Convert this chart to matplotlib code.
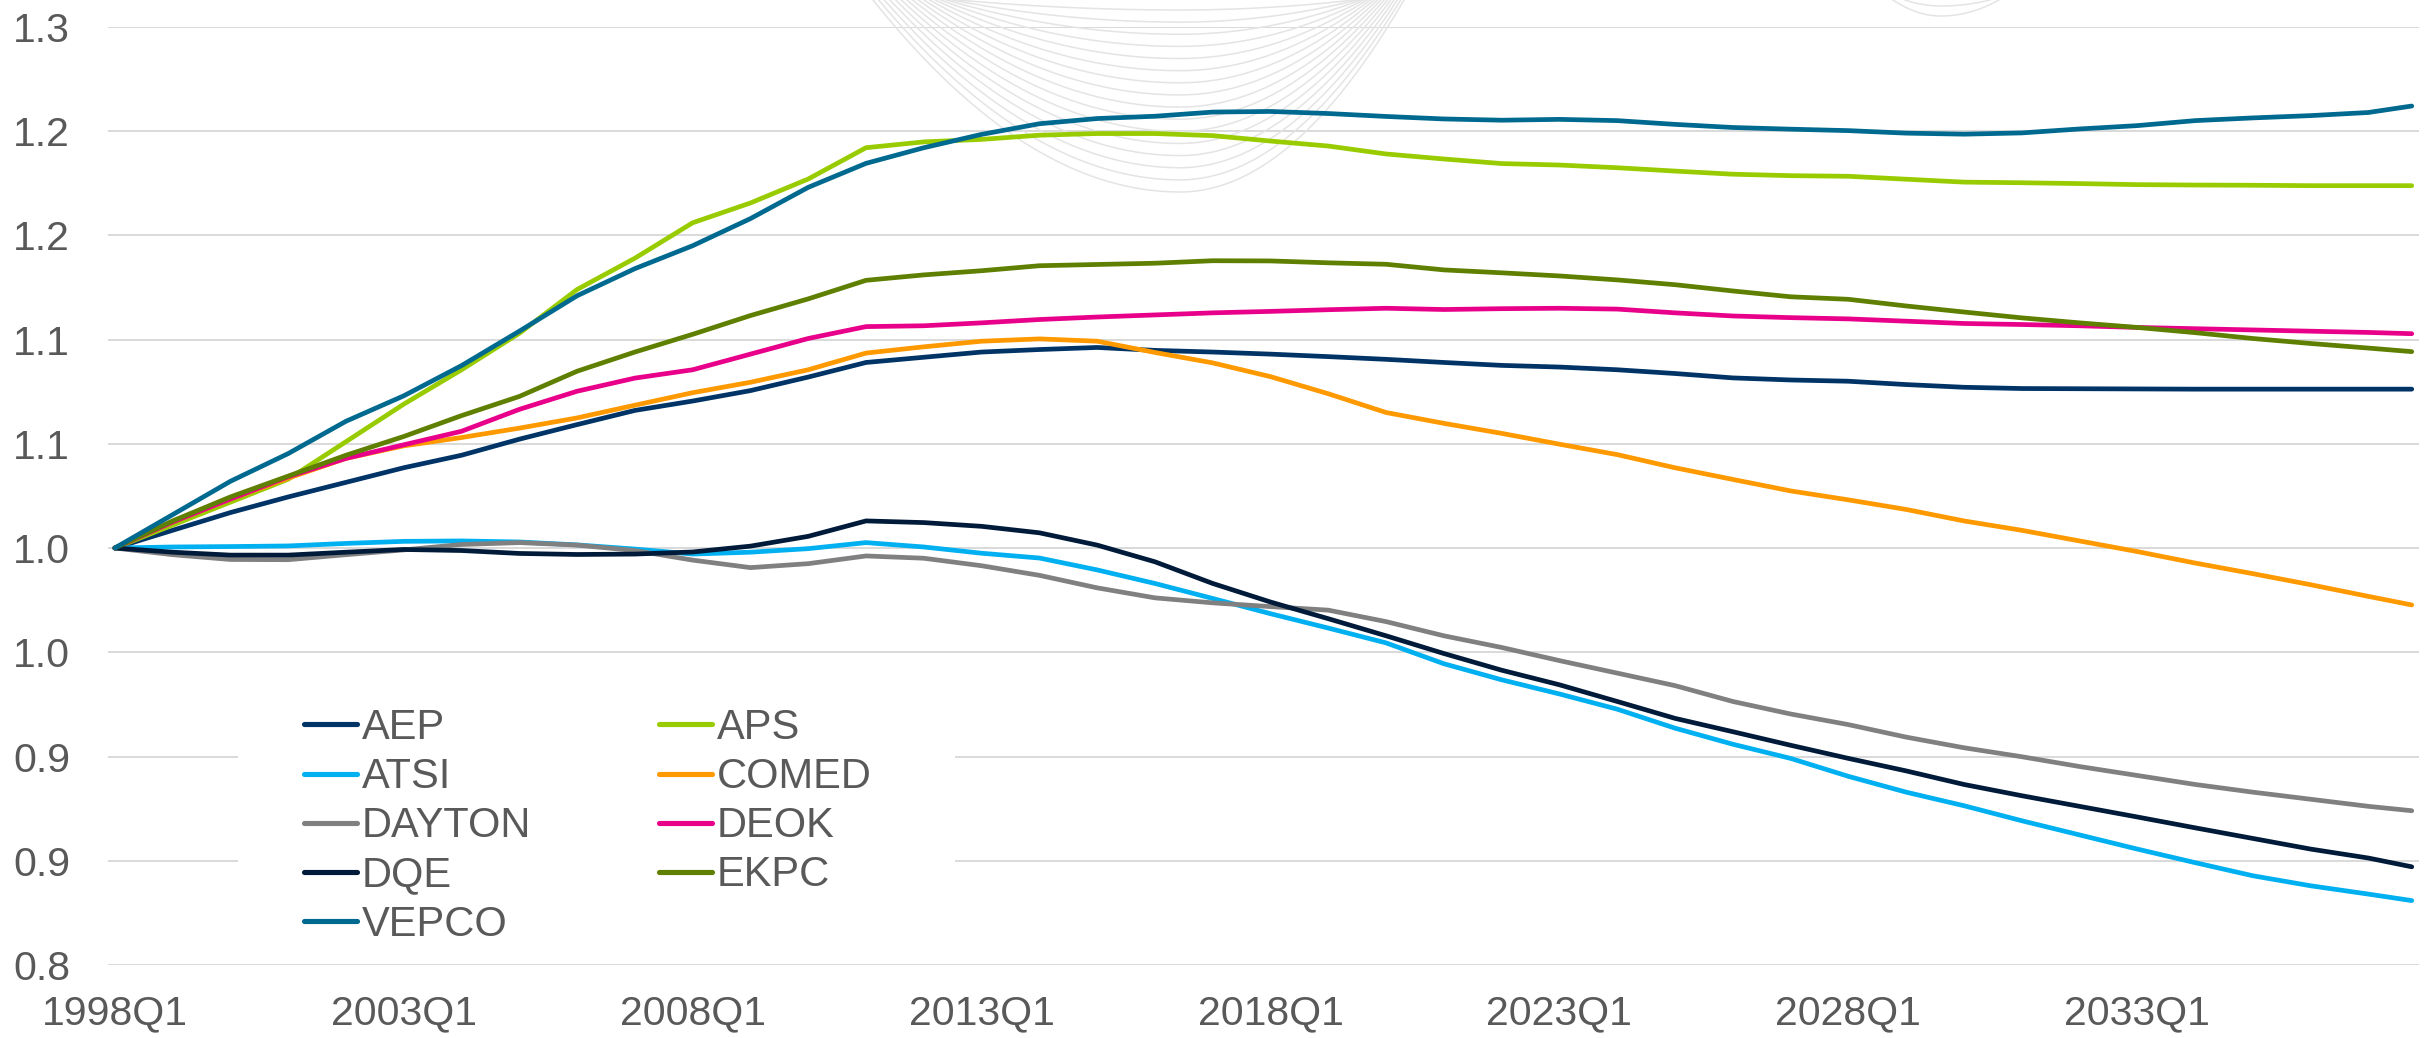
import numpy as np
import matplotlib
matplotlib.use("Agg")
import matplotlib.pyplot as plt
from matplotlib.lines import Line2D
from matplotlib.patches import Rectangle

plt.rcParams["font.family"] = ["Liberation Sans", "DejaVu Sans"]

# ---------------- categories ----------------
quarters = [f"{y}Q{q}" for y in range(1998, 2038) for q in range(1, 5)]
sample_quarters = [f"{y}Q1" for y in range(1998, 2038)] + ["2037Q4"]
tick_quarters = ["1998Q1", "2003Q1", "2008Q1", "2013Q1", "2018Q1",
                 "2023Q1", "2028Q1", "2033Q1"]
y_ticks = [0.80, 0.85, 0.90, 0.95, 1.00, 1.05, 1.10, 1.15, 1.20, 1.25]
y_tick_labels = ["0.8", "0.9", "0.9", "1.0", "1.0", "1.1", "1.1", "1.2", "1.2", "1.3"]

# ---------------- series (values at sample_quarters) ----------------
AEP = [1.000, 1.0085, 1.017, 1.0245, 1.0315, 1.0385, 1.0445, 1.0522, 1.0592, 1.066,
       1.0705, 1.0755, 1.082, 1.089, 1.0915, 1.094, 1.0952, 1.0962, 1.0948, 1.094,
       1.093, 1.0918, 1.0905, 1.089, 1.0876, 1.0868, 1.0855, 1.0837, 1.0816, 1.0806,
       1.080, 1.0784, 1.0771, 1.0765, 1.0764, 1.0763, 1.0762, 1.0762, 1.0762, 1.0762,
       1.0762]
APS = [1.000, 1.011, 1.022, 1.033, 1.051, 1.069, 1.0855, 1.103, 1.124, 1.139,
       1.156, 1.1655, 1.177, 1.192, 1.1948, 1.196, 1.198, 1.1988, 1.1988, 1.1978,
       1.1952, 1.1928, 1.189, 1.1866, 1.1844, 1.1837, 1.1824, 1.1808, 1.1793, 1.1786,
       1.1783, 1.1769, 1.1755, 1.1752, 1.1748, 1.1743, 1.1741, 1.174, 1.1738, 1.1738,
       1.1738]
ATSI = [1.000, 1.0005, 1.0007, 1.001, 1.0022, 1.0032, 1.0034, 1.0029, 1.0015, 0.9995,
        0.9971, 0.998, 0.9997, 1.0026, 1.0005, 0.9975, 0.9952, 0.9895, 0.983, 0.9758,
        0.9685, 0.9616, 0.9545, 0.9445, 0.9368, 0.930, 0.9227, 0.9136, 0.9059, 0.8991,
        0.8905, 0.8829, 0.8764, 0.8692, 0.8624, 0.8556, 0.8491, 0.8428, 0.838, 0.834,
        0.8309]
COMED = [1.000, 1.0125, 1.0235, 1.0335, 1.043, 1.049, 1.053, 1.0575, 1.0624, 1.0685,
         1.0745, 1.0795, 1.0855, 1.0935, 1.0965, 1.0992, 1.1003, 1.0992, 1.0938, 1.0888,
         1.0822, 1.074, 1.065, 1.0598, 1.055, 1.0498, 1.0448, 1.0385, 1.0329, 1.0274,
         1.0231, 1.0185, 1.013, 1.0085, 1.0034, 0.9983, 0.9928, 0.9877, 0.9824, 0.9768,
         0.9727]
DAYTON = [1.000, 0.9968, 0.9945, 0.9944, 0.9968, 0.9991, 1.0017, 1.0026, 1.0014, 0.9988,
          0.9942, 0.9906, 0.9925, 0.9962, 0.9951, 0.9915, 0.9869, 0.9809, 0.9761, 0.9737,
          0.9719, 0.9702, 0.9647, 0.9579, 0.9523, 0.946, 0.940, 0.934, 0.9264, 0.9204,
          0.9153, 0.9093, 0.9042, 0.8999, 0.8952, 0.8909, 0.8866, 0.8829, 0.8795, 0.8761,
          0.874]
DEOK = [1.000, 1.0125, 1.0235, 1.0342, 1.043, 1.0495, 1.056, 1.0665, 1.0752, 1.0815,
        1.0855, 1.093, 1.1005, 1.1062, 1.1066, 1.108, 1.1096, 1.1108, 1.1118, 1.1128,
        1.1135, 1.1143, 1.115, 1.1144, 1.1148, 1.115, 1.1146, 1.1128, 1.1113, 1.1105,
        1.1099, 1.1088, 1.1077, 1.1072, 1.1066, 1.1058, 1.1052, 1.1046, 1.104, 1.1034,
        1.1028]
DQE = [1.000, 0.998, 0.9966, 0.9966, 0.998, 0.9993, 0.9988, 0.9974, 0.9969, 0.9971,
       0.9981, 1.0009, 1.0056, 1.013, 1.0122, 1.0104, 1.0073, 1.0014, 0.9934, 0.983,
       0.9741, 0.9661, 0.9579, 0.9494, 0.9414, 0.9344, 0.9264, 0.9183, 0.9119, 0.9054,
       0.8991, 0.8931, 0.8866, 0.8812, 0.8761, 0.871, 0.8658, 0.8607, 0.8556, 0.8513,
       0.8471]
EKPC = [1.000, 1.013, 1.0245, 1.0345, 1.0445, 1.0535, 1.0635, 1.0727, 1.0848, 1.094,
        1.1025, 1.1115, 1.1195, 1.1284, 1.131, 1.133, 1.1354, 1.136, 1.1366, 1.1378,
        1.1377, 1.1368, 1.1361, 1.1334, 1.132, 1.1305, 1.1286, 1.1263, 1.1233, 1.1205,
        1.1193, 1.1161, 1.1132, 1.1104, 1.108, 1.1058, 1.1033, 1.1005, 1.0981, 1.0959,
        1.0942]
VEPCO = [1.000, 1.016, 1.032, 1.0453, 1.0608, 1.073, 1.0875, 1.104, 1.121, 1.134,
         1.145, 1.158, 1.173, 1.1845, 1.192, 1.1984, 1.2035, 1.206, 1.2071, 1.2091,
         1.2094, 1.2084, 1.207, 1.2058, 1.2052, 1.2056, 1.205, 1.2032, 1.2017, 1.2009,
         1.2002, 1.199, 1.1985, 1.1991, 1.201, 1.2026, 1.205, 1.2063, 1.2074, 1.2089,
         1.212]

series_names = ["AEP", "APS", "ATSI", "COMED", "DAYTON", "DEOK", "DQE", "EKPC", "VEPCO"]
series_values = [AEP, APS, ATSI, COMED, DAYTON, DEOK, DQE, EKPC, VEPCO]
series_colors = ["#003366", "#99CC00", "#00B0F0", "#FF9900", "#808080",
                 "#E8008A", "#001B3A", "#5F7F00", "#00698F"]

TEXT = "#595959"

fig = plt.figure(figsize=(24.33, 10.38), dpi=100)
ax = fig.add_axes([0.04423, 0.07033, 0.95, 0.90385])

x = np.array([quarters.index(q) for q in sample_quarters])
lines = {}
for name, vals, col in zip(series_names, series_values, series_colors):
    ln, = ax.plot(x, vals, color=col, lw=3.4, solid_capstyle="round",
                  solid_joinstyle="round", zorder=3, label=name)
    lines[name] = ln

ax.set_xlim(-0.5, len(quarters) - 0.5)
ax.set_ylim(y_ticks[0], y_ticks[-1])
ax.set_xticks([quarters.index(q) for q in tick_quarters])
ax.set_xticklabels(tick_quarters)
ax.set_yticks(y_ticks)
ax.set_yticklabels(y_tick_labels)
ax.tick_params(axis="both", length=0, labelsize=29.5, colors=TEXT)
ax.tick_params(axis="y", pad=27)
ax.tick_params(axis="x", pad=21)
for s in ax.spines.values():
    s.set_visible(False)
ax.yaxis.grid(True, color="#D9D9D9", lw=1.4)
ax.set_axisbelow(True)

# faint decorative watermark (background logo)
W, H = 2433.0, 1038.0
wm_color = "#E4E4E4"
n_wm = 16
for k in range(n_wm):
    t = k / (n_wm - 1)
    depth = 192 - 182 * t
    left = 873 + 85 * t
    right = 1404 - 50 * t
    c = 1180
    xs = np.linspace(left, right, 300)
    u = np.where(xs < c, (xs - c) / (c - left), (xs - c) / (right - c))
    ys = depth * (1 - u ** 2)
    ax.add_line(Line2D(xs / W, 1 - ys / H, transform=fig.transFigure,
                       color=wm_color, lw=1.1, zorder=0.7, clip_on=False))
for (l, r, d) in [(1893, 1999, 16), (1905, 1990, 6)]:
    c = 1941
    xs = np.linspace(l, r, 100)
    u = np.where(xs < c, (xs - c) / (c - l), (xs - c) / (r - c))
    ys = d * (1 - u ** 2)
    ax.add_line(Line2D(xs / W, 1 - ys / H, transform=fig.transFigure,
                       color=wm_color, lw=1.1, zorder=0.7, clip_on=False))

# white legend background hiding gridlines
ax.add_patch(Rectangle((238 / W, 1 - 958 / H), (955 - 238) / W, (958 - 665) / H,
                       transform=fig.transFigure, facecolor="white",
                       edgecolor="none", zorder=1, clip_on=False))

leg_order = ["AEP", "ATSI", "DAYTON", "DQE", "VEPCO", "APS", "COMED", "DEOK", "EKPC"]
leg = ax.legend([lines[n] for n in leg_order], leg_order, ncol=2,
                loc="upper left", bbox_to_anchor=(304 / W, 1 - 708 / H),
                bbox_transform=fig.transFigure, frameon=False, borderpad=0,
                handlelength=1.27, handletextpad=0.11, columnspacing=3.08,
                labelspacing=0.22, fontsize=30, labelcolor=TEXT,
                borderaxespad=0)
leg.set_zorder(5)
for lh in leg.get_lines():
    lh.set_linewidth(3.7)
    lh.set_solid_capstyle("round")

fig.savefig("out.png", dpi=100)
